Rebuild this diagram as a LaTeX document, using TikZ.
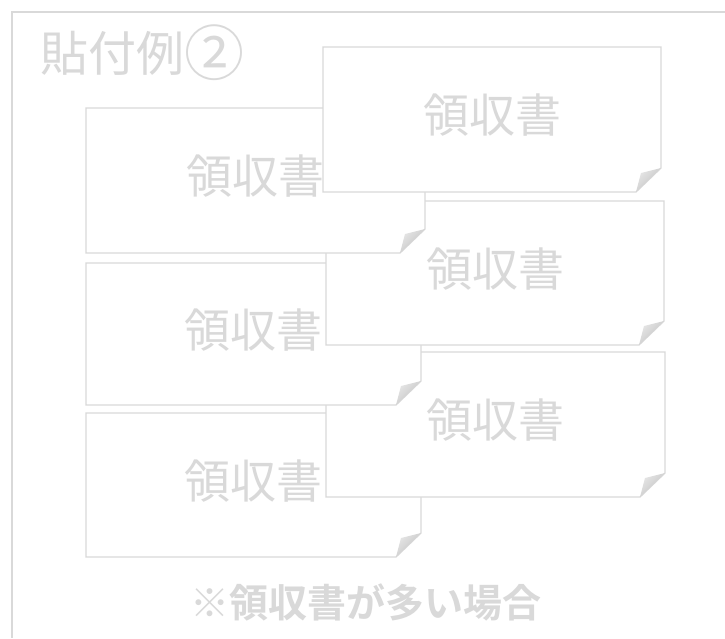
\documentclass[tikz,border=0pt]{standalone}
\usepackage{fontspec}
\usepackage{graphicx}
\newfontfamily\jpfont{Noto Sans CJK JP}
\newfontfamily\jpbold{Noto Sans CJK JP Bold}
\definecolor{lineg}{HTML}{D9D9D9}
\definecolor{textg}{HTML}{D9D9D9}
\definecolor{folddark}{HTML}{BFBFBF}
\definecolor{foldlight}{HTML}{E6E6E6}
\tikzset{
  frameline/.style={draw=lineg, line width=1.3pt},
  paper/.style={draw=lineg, fill=white, line width=1.3pt, line join=miter},
  foldpart/.style={left color=foldlight, right color=folddark, draw=none, shading angle=45},
  rtext/.style={text=textg, font=\jpfont\fontsize{46}{46}\selectfont, inner sep=0pt},
}
% \rcpt{name}{L}{T}{R}{B}
\newcommand\rcpt[5]{%
  \path[paper] (#2,#3) -- (#4,#3) -- (#4,#5-24) -- (#4-25,#5) -- (#2,#5) -- cycle;
  \path[foldpart] (#4-25,#5) .. controls (#4-22,#5-10) .. (#4-20,#5-19) -- (#4,#5-24) -- cycle;
  \node[rtext] (#1) at ({(#2+#4)/2},{(#3+#5)/2-4}) {領収書};
}
\begin{document}
\begin{tikzpicture}[x=1pt,y=-1pt]
\useasboundingbox (0,0) rectangle (725,638);
\fill[white] (0,0) rectangle (725,638);
\draw[frameline] (725,12) -- (12,12) -- (12,638);
\node[anchor=west, text=textg, font=\jpfont\fontsize{48}{48}\selectfont, inner sep=0pt] (title) at (40,53) {貼付例\raisebox{-0.08em}{\scalebox{1.25}{②}}};
\rcpt{r6}{86}{413}{421}{557}
\rcpt{r5}{326}{352}{665}{497}
\rcpt{r4}{86}{263}{421}{405}
\rcpt{r3}{326}{201}{664}{345}
\rcpt{r1}{86}{108}{425}{253}
\rcpt{r2}{323}{47}{661}{192}
\node[text=textg, font=\jpbold\fontsize{39}{39}\selectfont, inner sep=0pt] (note) at (366,602) {※領収書が多い場合};
\end{tikzpicture}
\end{document}
